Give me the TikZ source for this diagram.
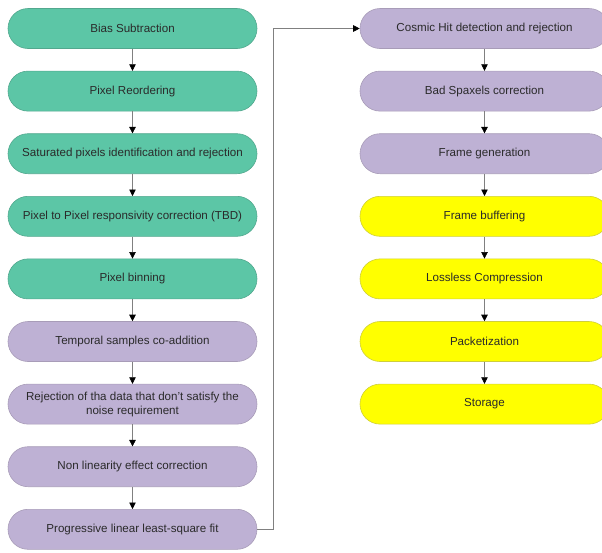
\documentclass[tikz,border=0pt]{standalone}
\usepackage{fontspec}
\setmainfont{Liberation Sans}
\usetikzlibrary{arrows.meta,shapes.misc}
\definecolor{gfill}{HTML}{5CC6A6}
\definecolor{gdraw}{HTML}{52A88E}
\definecolor{pfill}{HTML}{BEB1D4}
\definecolor{pdraw}{HTML}{A89CB8}
\definecolor{yfill}{HTML}{FFFF00}
\definecolor{ydraw}{HTML}{CFCF3A}
\definecolor{txt}{HTML}{2A2A2A}
\definecolor{lin}{HTML}{808080}
\tikzset{
  stepbox/.style={rounded rectangle, minimum width=249pt, minimum height=40pt, inner sep=0pt,
    font=\fontsize{11.6}{13.8}\selectfont, text=txt, align=center, line width=0.6pt},
  grn/.style={stepbox, fill=gfill, draw=gdraw},
  prp/.style={stepbox, fill=pfill, draw=pdraw},
  ylw/.style={stepbox, fill=yfill, draw=ydraw},
  conn/.style={draw=lin, line width=0.6pt, -{Triangle[width=6.5pt,length=6.5pt,color=black]}}
}
\begin{document}
\begin{tikzpicture}[x=1pt,y=-1pt]
\useasboundingbox (0,0) rectangle (602,552);
\begin{scope}
\clip (0,0) rectangle (602,552);
\node[grn] (a1) at (132.5,28.5) {Bias Subtraction};
\node[grn] (a2) at (132.5,91.1) {Pixel Reordering};
\node[grn] (a3) at (132.5,153.7) {Saturated pixels identification and rejection};
\node[grn] (a4) at (132.5,216.3) {Pixel to Pixel responsivity correction (TBD)};
\node[grn] (a5) at (132.5,278.9) {Pixel binning};
\node[prp] (a6) at (132.5,341.5) {Temporal samples co-addition};
\node[prp] (a7) at (132.5,404.1) {Rejection of tha data that don't satisfy the\\noise requirement};
\node[prp] (a8) at (132.5,466.7) {Non linearity effect correction};
\node[prp] (a9) at (132.5,529.3) {Progressive linear least-square fit};
\node[prp] (b1) at (484.5,28.5) {Cosmic Hit detection and rejection};
\node[prp] (b2) at (484.5,91.1) {Bad Spaxels correction};
\node[prp] (b3) at (484.5,153.7) {Frame generation};
\node[ylw] (b4) at (484.5,216.3) {Frame buffering};
\node[ylw] (b5) at (484.5,278.9) {Lossless Compression};
\node[ylw] (b6) at (484.5,341.5) {Packetization};
\node[ylw] (b7) at (484.5,404.1) {Storage};
\end{scope}
\foreach \p/\q in {a1/a2,a2/a3,a3/a4,a4/a5,a5/a6,a6/a7,a7/a8,a8/a9,b1/b2,b2/b3,b3/b4,b4/b5,b5/b6,b6/b7}
  \draw[conn] (\p.south) -- (\q.north);
\coordinate (c1) at (273.5,529.3);
\coordinate (c2) at (273.5,28.5);
\draw[conn] (a9.east) -- (c1) -- (c2) -- (b1.west);
\end{tikzpicture}
\end{document}
